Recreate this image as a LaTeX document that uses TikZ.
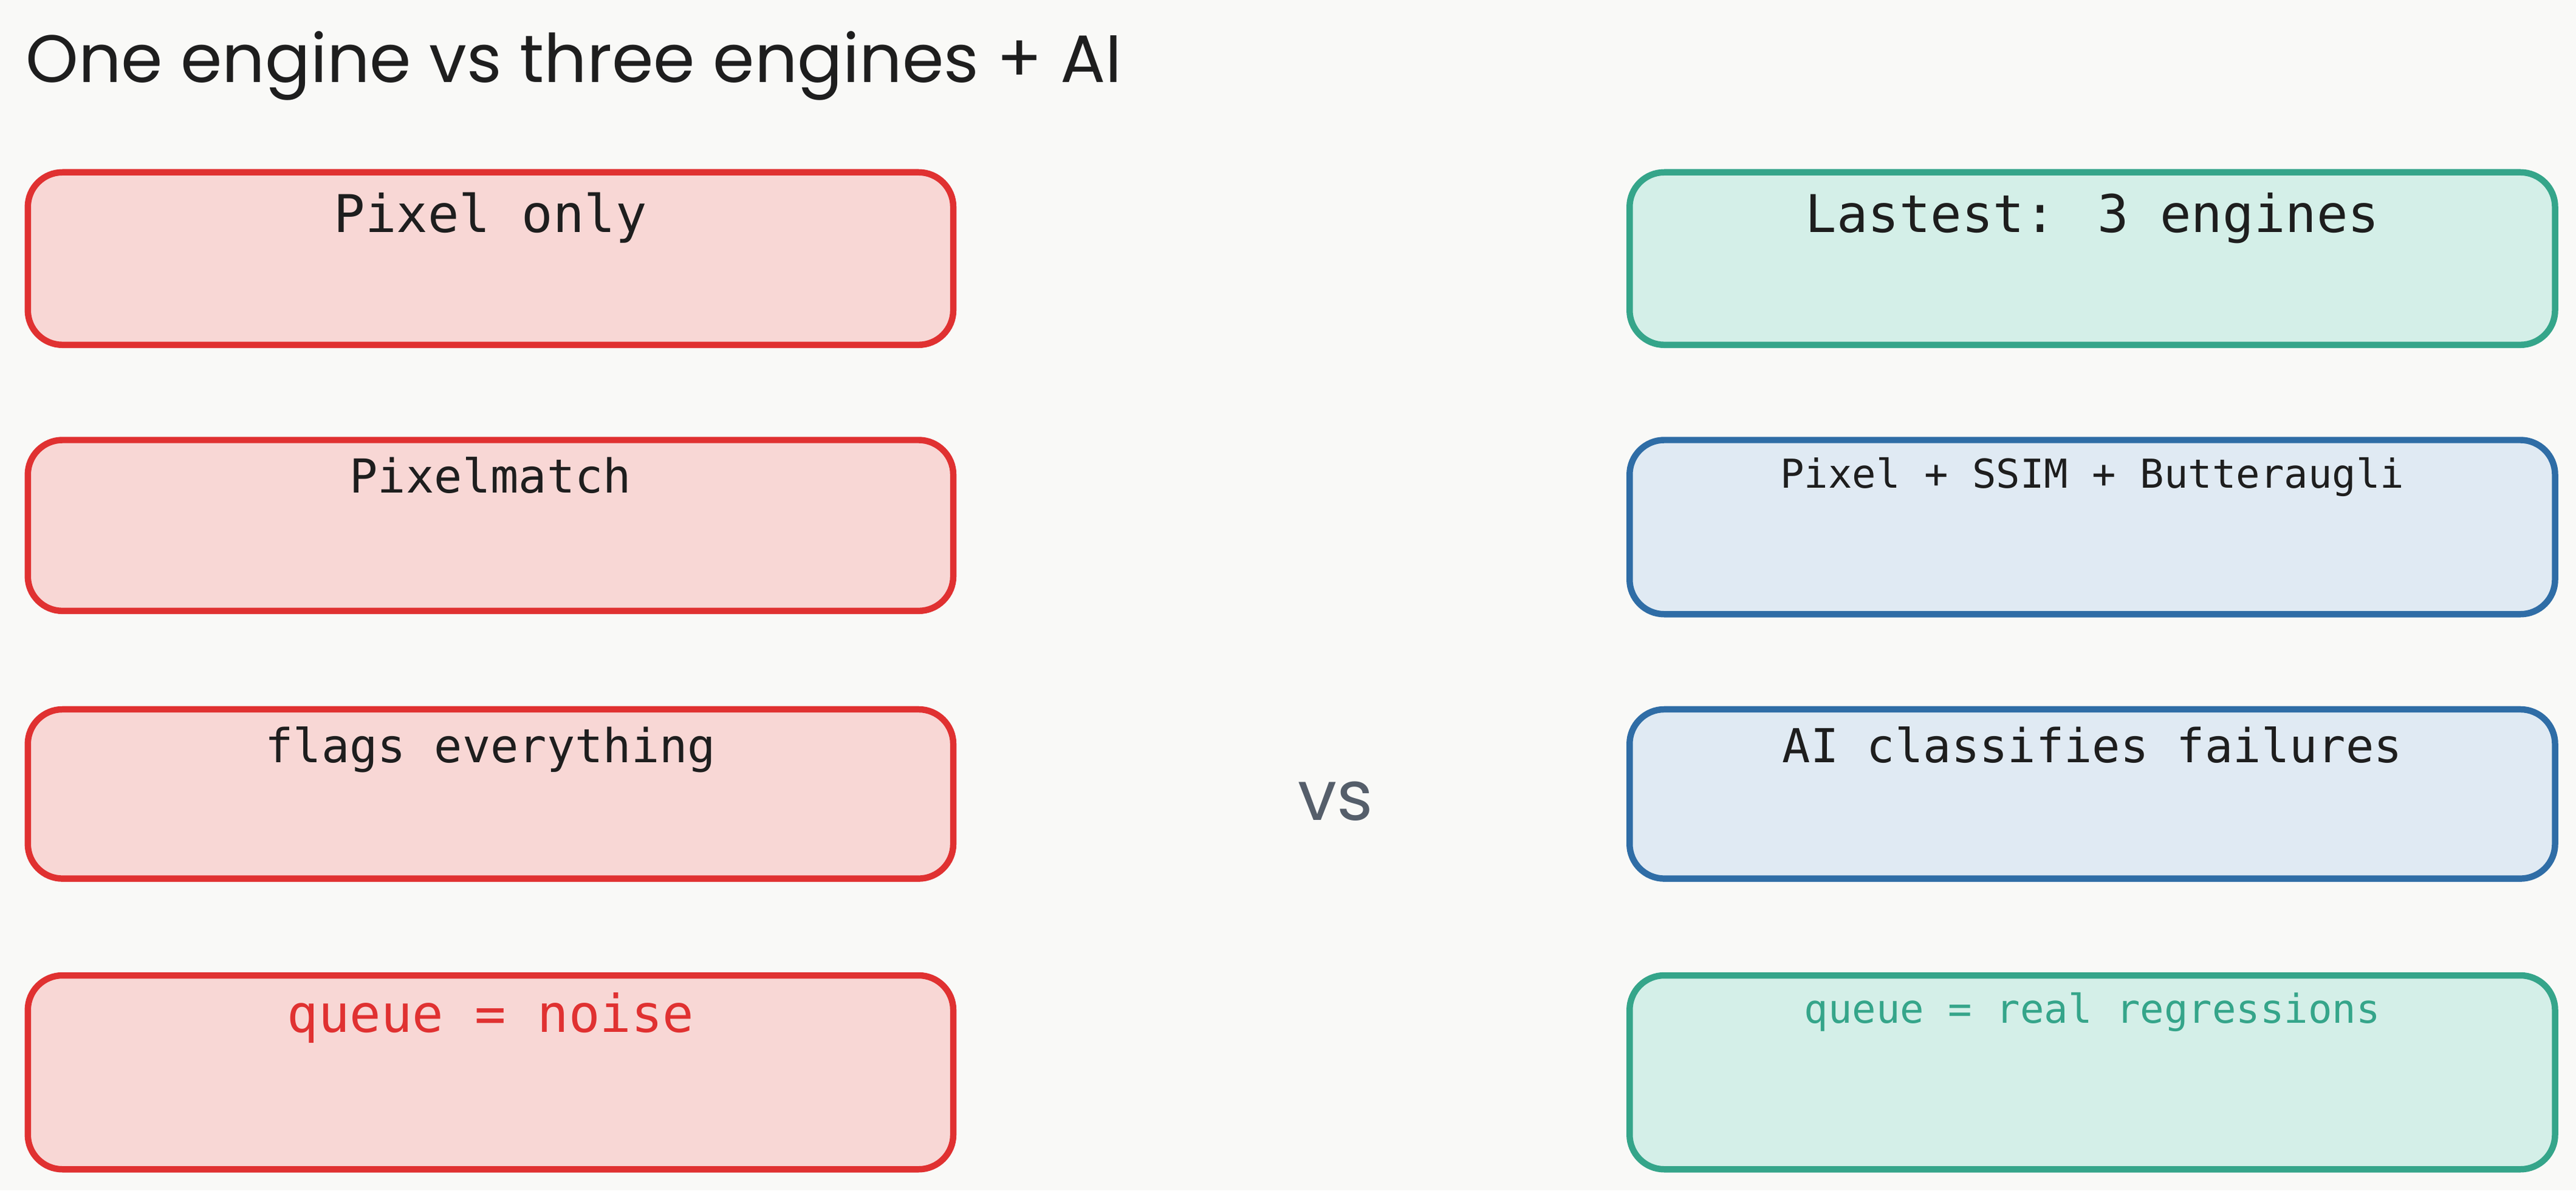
\documentclass[tikz,border=0pt]{standalone}
\usepackage{fontspec}
\setmainfont{DejaVu Sans Mono}
\newfontfamily\handfont{Poppins}
\usetikzlibrary{positioning}
\definecolor{bgpaper}{HTML}{F9F9F7}
\definecolor{inkdark}{HTML}{1E1E1E}
\definecolor{redline}{HTML}{E03131}
\definecolor{redfill}{HTML}{F8D7D5}
\definecolor{greenline}{HTML}{35A58A}
\definecolor{greenfill}{HTML}{D4EFE8}
\definecolor{blueline}{HTML}{2F6DA6}
\definecolor{bluefill}{HTML}{E0EAF3}
\definecolor{vsgray}{HTML}{555E6A}

\begin{document}
\begin{tikzpicture}[x=0.01cm, y=-0.01cm,
    card/.style={rectangle, rounded corners=6pt, line width=1.1pt, minimum width=5.63cm, anchor=north west, inner sep=0pt},
    redcard/.style={card, draw=redline, fill=redfill},
    greencard/.style={card, draw=greenline, fill=greenfill},
    bluecard/.style={card, draw=blueline, fill=bluefill},
    cardtext/.style={font=\fontsize{8.1}{10}\selectfont, text=inkdark, anchor=north},
    headtext/.style={cardtext, font=\fontsize{9}{11}\selectfont}
]
\fill[bgpaper] (0,0) rectangle (1568,725);

\node[anchor=west, inner sep=0pt, font=\handfont\fontsize{11.6}{14}\selectfont, text=inkdark] (title) at (15,40) {One engine vs three engines + AI};

% left column
\node[redcard, minimum height=1.05cm] (pixonly) at (15,103) {};
\node[redcard, minimum height=1.04cm] (pixmatch) at (15,266) {};
\node[redcard, minimum height=1.03cm] (flags) at (15,430) {};
\node[redcard, minimum height=1.18cm] (noise) at (15,592) {};
\node[headtext] (pixonlyT) at ([yshift=-0.02cm]pixonly.north) {Pixel only};
\node[cardtext] (pixmatchT) at (pixmatch.north) {Pixelmatch};
\node[cardtext] (flagsT) at (flags.north) {flags everything};
\node[headtext, text=redline] (noiseT) at (noise.north) {queue = noise};

% right column
\node[greencard, minimum height=1.05cm] (lastest) at (990,103) {};
\node[bluecard, minimum height=1.06cm] (engines) at (990,266) {};
\node[bluecard, minimum height=1.03cm] (aiclass) at (990,430) {};
\node[greencard, minimum height=1.18cm] (regress) at (990,592) {};
\node[headtext] (lastestT) at ([yshift=-0.02cm]lastest.north) {Lastest: 3 engines};
\node[cardtext, font=\fontsize{6.9}{9}\selectfont] (enginesT) at (engines.north) {Pixel + SSIM + Butteraugli};
\node[cardtext] (aiclassT) at (aiclass.north) {AI classifies failures};
\node[cardtext, text=greenline, font=\fontsize{6.9}{9}\selectfont] (regressT) at (regress.north) {queue = real regressions};

\node[font=\handfont\fontsize{12}{14}\selectfont, text=vsgray] (vs) at (813,488) {vs};
\end{tikzpicture}
\end{document}
